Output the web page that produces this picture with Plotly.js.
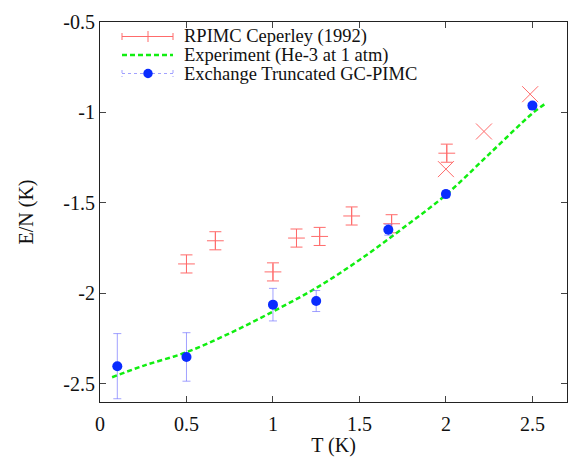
<!DOCTYPE html>
<html>
<head>
<meta charset="utf-8">
<script src="https://cdn.plot.ly/plotly-3.0.1.min.js"></script>
<style>html,body{margin:0;padding:0;background:#fff;}#chart{width:569px;height:457px;}</style>
</head>
<body>
<div id="chart"></div>
<script>
// RPIMC Ceperley (1992) with error bars
const rpimcT   = [0.5, 0.667, 1.0, 1.136, 1.27, 1.455, 1.686, 2.005];
const rpimcE   = [-1.837, -1.709, -1.881, -1.694, -1.685, -1.572, -1.615, -1.225];
const rpimcErr = [0.05, 0.05, 0.05, 0.05, 0.05, 0.05, 0.05, 0.05];
// extra RPIMC points (x markers, no legend entry)
const rpimcXT = [2.0, 2.22, 2.487];
const rpimcXE = [-1.313, -1.105, -0.899];
// Experiment (He-3 at 1 atm)
const expT = [0.07, 0.25, 0.5, 0.75, 1.0, 1.25, 1.5, 1.75, 2.0, 2.25, 2.5, 2.578];
const expE = [-2.463, -2.40, -2.325, -2.22, -2.10, -1.97, -1.815, -1.64, -1.455, -1.23, -1.005, -0.949];
// Exchange Truncated GC-PIMC
const gcT   = [0.1, 0.5, 1.0, 1.25, 1.667, 2.0, 2.5];
const gcE   = [-2.402, -2.351, -2.062, -2.042, -1.648, -1.451, -0.962];
const gcErr = [0.18, 0.134, 0.09, 0.058, 0.03, 0.02, 0.015];
// series names and tick labels
const seriesNames = ['RPIMC Ceperley (1992)', 'Experiment (He-3 at 1 atm)', 'Exchange Truncated GC-PIMC'];
const xTicks = [0, 0.5, 1, 1.5, 2, 2.5];
const xTickText = ["0", "0.5", "1", "1.5", "2", "2.5"];
const yTicks = [-2.5, -2, -1.5, -1, -0.5];
const yTickText = ["-2.5", "-2", "-1.5", "-1", "-0.5"];

const red = '#ff6b6b';
const green = '#11ee11';
const blue = '#0a2cff';
const lightBlue = 'rgba(110,110,255,0.65)';
const font = "'Liberation Serif', 'Times New Roman', serif";
const W = 569, H = 457, M = {l: 100, r: 2, t: 22, b: 55};
const pw = W - M.l - M.r, ph = H - M.t - M.b;
const PX = p => (p - M.l) / pw;
const PY = p => 1 - (p - M.t) / ph;

const traces = [
  {
    x: rpimcT, y: rpimcE, type: 'scatter', mode: 'markers', name: seriesNames[0], showlegend: false,
    marker: {symbol: 'cross-thin-open', size: 12, color: red, line: {color: red, width: 1}},
    error_y: {type: 'data', array: rpimcErr, visible: true, color: red, thickness: 1, width: 6}
  },
  {
    x: rpimcXT, y: rpimcXE, type: 'scatter', mode: 'markers', showlegend: false,
    marker: {symbol: 'x-thin-open', size: 16, color: red, line: {color: red, width: 1}}
  },
  {
    x: expT, y: expE, type: 'scatter', mode: 'lines', name: seriesNames[1], showlegend: false,
    line: {shape: 'spline', color: green, width: 2.5, dash: '5px,3px'}
  },
  {
    x: gcT, y: gcE, type: 'scatter', mode: 'markers', name: seriesNames[2], showlegend: false,
    marker: {symbol: 'circle', size: 10, color: blue},
    error_y: {type: 'data', array: gcErr, visible: true, color: lightBlue, thickness: 1, width: 4}
  }
];

// key drawn in the gnuplot style (top-left)
const rowY = [36.5, 55, 73.5];
const sx0 = 122, sx1 = 173, sxc = 148, tx = 183;
const shapes = [];
const annotations = [];
const L = (x0, y0, x1, y1, color, width, dash) => shapes.push({
  type: 'line', xref: 'paper', yref: 'paper', x0: PX(x0), y0: PY(y0), x1: PX(x1), y1: PY(y1),
  line: {color: color, width: width, dash: dash || 'solid'}
});
// red error-bar sample
L(sx0, rowY[0], sx1, rowY[0], red, 1);
L(sx0, rowY[0] - 3.5, sx0, rowY[0] + 3.5, red, 1);
L(sx1, rowY[0] - 3.5, sx1, rowY[0] + 3.5, red, 1);
L(sxc, rowY[0] - 5.5, sxc, rowY[0] + 5.5, red, 1);
// green dashed sample
L(sx0, rowY[1], sx1, rowY[1], green, 2.5, '5px,3px');
// blue dotted sample with dot
L(sx0, rowY[2], sx1, rowY[2], lightBlue, 1, 'dot');
L(sx0, rowY[2] - 3.5, sx0, rowY[2] + 3.5, lightBlue, 1, 'dot');
L(sx1, rowY[2] - 3.5, sx1, rowY[2] + 3.5, lightBlue, 1, 'dot');
shapes.push({type: 'circle', xref: 'paper', yref: 'paper', xsizemode: 'pixel', ysizemode: 'pixel',
  xanchor: PX(sxc), yanchor: PY(rowY[2]), x0: -4.7, x1: 4.7, y0: -4.7, y1: 4.7,
  fillcolor: blue, line: {color: blue, width: 0}});
seriesNames.forEach((n, i) => annotations.push({
  xref: 'paper', yref: 'paper', x: PX(tx), y: PY(rowY[i]), xanchor: 'left', yanchor: 'middle',
  text: n, showarrow: false, borderpad: 0, font: {family: font, size: 18.5, color: '#111'}
}));

const axisCommon = {
  showgrid: false, zeroline: false, showline: true, linecolor: '#222', linewidth: 1,
  mirror: 'ticks', ticks: 'inside', ticklen: 6, tickcolor: '#444', tickwidth: 1,
  tickfont: {family: font, size: 20, color: '#111'}
};

const layout = {
  width: W, height: H, margin: M,
  paper_bgcolor: '#fff', plot_bgcolor: '#fff',
  font: {family: font, size: 20, color: '#111'},
  showlegend: false,
  shapes: shapes, annotations: annotations,
  xaxis: Object.assign({}, axisCommon, {
    range: [0, 2.7], tickmode: 'array', tickvals: xTicks, ticktext: xTickText, ticklabelstandoff: 4,
    title: {text: 'T (K)', font: {family: font, size: 20, color: '#111'}, standoff: 8}
  }),
  yaxis: Object.assign({}, axisCommon, {
    range: [-2.6, -0.5], tickmode: 'array', tickvals: yTicks, ticktext: yTickText,
    title: {text: 'E/N (K)', font: {family: font, size: 20, color: '#111'}, standoff: 24}
  })
};

Plotly.newPlot('chart', traces, layout, {displayModeBar: false, staticPlot: true});
</script>
</body>
</html>
